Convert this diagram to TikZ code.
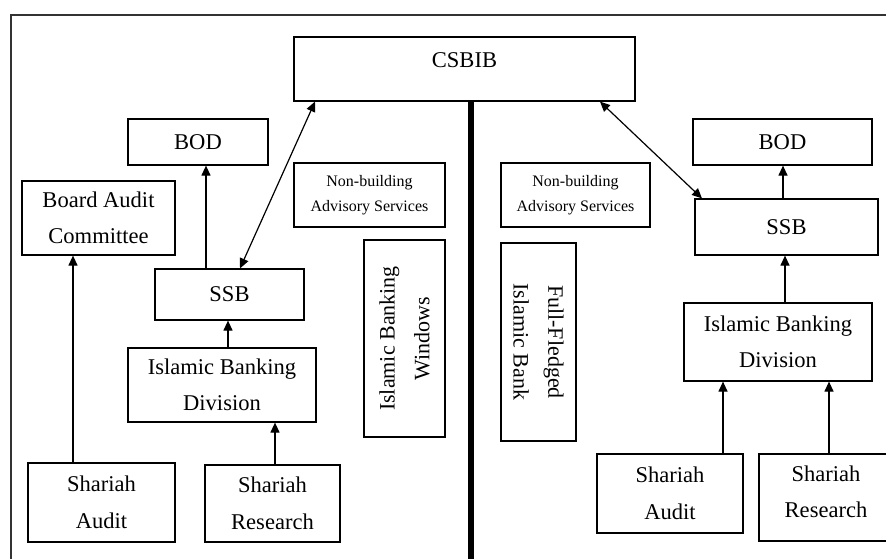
\documentclass[tikz,border=0pt]{standalone}
\usepackage{fontspec}
\setmainfont{Liberation Serif}
\usetikzlibrary{arrows.meta}
\tikzset{
  wh/.style 2 args={minimum width=#1*0.75pt, minimum height=#2*0.75pt},
  box/.style={draw, line width=0.9pt, align=center, inner sep=1pt,
    font=\fontsize{16.9}{27.4}\selectfont},
  smallbox/.style={box, font=\fontsize{12}{18.75}\selectfont},
  vbox/.style={box, font=\fontsize{16.5}{26}\selectfont},
  arr/.style={line width=0.9pt, -{Triangle[length=7.5pt,width=6.75pt]}},
  darr/.style={line width=0.9pt, {Triangle[length=7.5pt,width=6.75pt]}-{Triangle[length=7.5pt,width=6.75pt]}},
  frame/.style={line width=0.9pt, draw=black!80},
  divider/.style={line width=4.5pt},
}
\begin{document}
\begin{tikzpicture}[x=0.75pt,y=-0.75pt]
\useasboundingbox (0,0) rectangle (886,558);
\clip (0,0) rectangle (886,558);

% frame (cut by the picture edge on the right and bottom)
\coordinate (ftl) at (11,15);
\coordinate (ftr) at (890,15);
\coordinate (fbl) at (11,562);
\draw[frame] (fbl) -- (ftl) -- (ftr);

% top
\node[box, wh={341}{64}, text height=11.2pt, text depth=13.5pt] (csbib) at (464.5,69) {CSBIB};

% divider
\coordinate (divb) at (471,562);
\draw[divider] (csbib.south -| divb) -- (divb);

% left side
\node[box, wh={140}{46}] (bodL) at (198,142) {BOD};
\node[box, wh={153}{74}] (bac) at (98.5,218) {Board Audit\\Committee};
\node[smallbox, wh={151}{64}] (nbaL) at (369.5,195) {Non-building\\Advisory Services};
\node[vbox, wh={197}{81}, rotate=90] (ibw) at (404.5,338.5) {Islamic Banking\\Windows};
\node[box, wh={149}{51}] (ssbL) at (229.5,294.5) {SSB};
\node[box, wh={188}{74}] (ibdL) at (222,385) {Islamic Banking\\Division};
\node[box, wh={147}{79}] (saL) at (101.5,502.5) {Shariah\\Audit};
\node[box, wh={135}{77}] (srL) at (272.5,503.5) {Shariah\\Research};

% right side
\node[box, wh={179}{46}] (bodR) at (782.5,142) {BOD};
\node[box, wh={183}{56}] (ssbR) at (786.5,227) {SSB};
\node[smallbox, wh={149}{64}] (nbaR) at (575.5,195) {Non-building\\Advisory Services};
\node[vbox, wh={198}{75}, rotate=-90] (ffib) at (538.5,342) {Full-Fledged\\Islamic Bank};
\node[box, wh={188}{78}] (ibdR) at (778,342) {Islamic Banking\\Division};
\node[box, wh={146}{79}] (saR) at (670,493.5) {Shariah\\Audit};
\node[box, wh={134}{87}, text depth=9pt] (srR) at (826,497.5) {Shariah\\Research};

% x positions of the connectors
\coordinate (xa) at (73,0);
\coordinate (xb) at (206,0);
\coordinate (xc) at (228,0);
\coordinate (xd) at (275,0);
\coordinate (xe) at (315,0);
\coordinate (xf) at (240,0);
\coordinate (xg) at (600,0);
\coordinate (xh) at (702,0);
\coordinate (xi) at (783,0);
\coordinate (xj) at (785,0);
\coordinate (xk) at (723,0);
\coordinate (xl) at (829,0);

% left connectors
\draw[arr] (saL.north -| xa) -- (bac.south -| xa);
\draw[arr] (ssbL.north -| xb) -- (bodL.south -| xb);
\draw[arr] (ibdL.north -| xc) -- (ssbL.south -| xc);
\draw[arr] (srL.north -| xd) -- (ibdL.south -| xd);
\draw[darr] (csbib.south -| xe) -- (ssbL.north -| xf);

% right connectors
\draw[darr] (csbib.south -| xg) -- (ssbR.north -| xh);
\draw[arr] (ssbR.north -| xi) -- (bodR.south -| xi);
\draw[arr] (ibdR.north -| xj) -- (ssbR.south -| xj);
\draw[arr] (saR.north -| xk) -- (ibdR.south -| xk);
\draw[arr] (srR.north -| xl) -- (ibdR.south -| xl);
\end{tikzpicture}
\end{document}
